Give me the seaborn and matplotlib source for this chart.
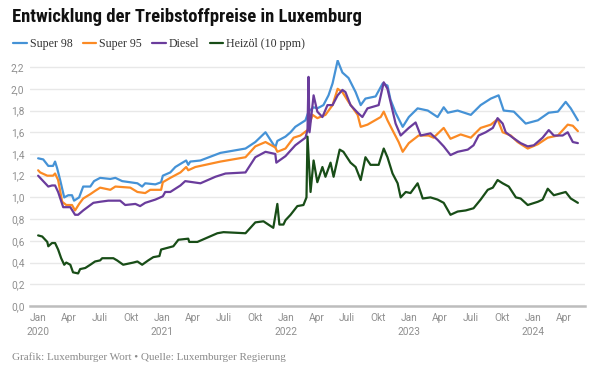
import matplotlib
matplotlib.use("Agg")
import matplotlib.pyplot as plt
from matplotlib import font_manager
import seaborn as sns
import pandas as pd

# ---------------- data ----------------
series_names = ["Super 98", "Super 95", "Diesel", "Heizöl (10 ppm)"]
series_colors = ["#4592d6", "#fb8a24", "#6a3c9c", "#184d17"]

super98_dates = ["2020-01-01","2020-01-16","2020-01-31","2020-02-14","2020-02-20","2020-02-26","2020-03-06","2020-03-18","2020-03-30","2020-04-10","2020-04-16","2020-05-01","2020-05-13","2020-06-03","2020-06-14","2020-07-02","2020-08-01","2020-08-16","2020-09-05","2020-10-20","2020-11-03","2020-11-12","2020-12-12","2020-12-29","2021-01-03","2021-01-25","2021-02-09","2021-03-02","2021-03-13","2021-03-19","2021-03-25","2021-04-24","2021-06-22","2021-09-04","2021-10-03","2021-11-02","2021-12-01","2021-12-07","2021-12-31","2022-01-15","2022-01-29","2022-02-28","2022-03-09","2022-03-24","2022-04-04","2022-04-22","2022-05-07","2022-05-19","2022-06-03","2022-06-17","2022-07-05","2022-07-26","2022-08-10","2022-08-24","2022-09-23","2022-10-14","2022-10-28","2022-11-06","2022-11-21","2022-12-12","2022-12-30","2023-01-25","2023-02-24","2023-03-25","2023-04-12","2023-04-24","2023-05-23","2023-07-01","2023-07-30","2023-08-29","2023-09-21","2023-10-06","2023-11-05","2023-12-10","2024-01-15","2024-02-16","2024-03-14","2024-04-06","2024-04-21","2024-05-12"]
super98_values = [1.36,1.35,1.29,1.29,1.33,1.27,1.16,1.00,1.02,1.02,0.97,1.00,1.10,1.10,1.15,1.18,1.17,1.18,1.15,1.13,1.10,1.13,1.12,1.14,1.20,1.23,1.28,1.32,1.34,1.30,1.33,1.34,1.41,1.45,1.51,1.60,1.46,1.52,1.56,1.60,1.65,1.71,1.79,1.83,1.82,1.85,1.94,2.05,2.26,2.15,2.10,1.97,1.85,1.91,1.93,2.05,2.03,1.90,1.78,1.65,1.74,1.82,1.80,1.74,1.83,1.78,1.80,1.76,1.85,1.91,1.94,1.80,1.79,1.68,1.71,1.78,1.79,1.88,1.82,1.71]

super95_dates = ["2020-01-01","2020-01-07","2020-01-28","2020-02-14","2020-02-20","2020-02-29","2020-03-12","2020-03-24","2020-04-10","2020-04-19","2020-05-01","2020-05-13","2020-06-03","2020-06-17","2020-07-02","2020-08-01","2020-08-16","2020-09-29","2020-10-20","2020-11-12","2020-11-27","2020-12-29","2021-01-03","2021-01-25","2021-02-24","2021-03-13","2021-03-19","2021-04-09","2021-06-22","2021-09-04","2021-10-03","2021-11-02","2021-12-01","2021-12-07","2021-12-31","2022-01-24","2022-02-13","2022-03-06","2022-03-21","2022-04-04","2022-04-28","2022-05-19","2022-06-03","2022-06-17","2022-07-05","2022-08-01","2022-08-10","2022-08-30","2022-10-08","2022-10-17","2022-10-28","2022-11-15","2022-11-30","2022-12-12","2022-12-30","2023-01-28","2023-02-26","2023-03-13","2023-04-12","2023-05-02","2023-06-01","2023-07-01","2023-07-30","2023-08-29","2023-09-18","2023-10-03","2023-10-27","2023-11-16","2023-12-16","2024-01-15","2024-02-13","2024-03-14","2024-04-12","2024-04-27","2024-05-12"]
super95_values = [1.25,1.23,1.20,1.20,1.22,1.16,0.96,0.93,0.93,0.88,0.94,0.99,1.03,1.06,1.09,1.07,1.10,1.09,1.05,1.04,1.07,1.07,1.14,1.18,1.23,1.28,1.25,1.28,1.33,1.37,1.47,1.51,1.46,1.42,1.45,1.55,1.57,1.62,1.76,1.73,1.76,1.85,2.00,1.97,1.88,1.76,1.65,1.67,1.74,1.79,1.71,1.60,1.51,1.42,1.50,1.57,1.57,1.55,1.64,1.54,1.58,1.55,1.64,1.67,1.72,1.60,1.57,1.51,1.45,1.49,1.55,1.57,1.67,1.66,1.61]

diesel_dates = ["2020-01-01","2020-01-16","2020-01-31","2020-02-11","2020-02-20","2020-02-29","2020-03-15","2020-04-05","2020-04-19","2020-04-28","2020-05-13","2020-06-12","2020-07-02","2020-07-26","2020-08-30","2020-09-14","2020-10-14","2020-10-28","2020-11-12","2020-12-12","2021-01-03","2021-01-10","2021-01-25","2021-02-24","2021-03-10","2021-04-24","2021-06-07","2021-07-07","2021-09-04","2021-10-03","2021-11-02","2021-12-01","2021-12-04","2021-12-31","2022-01-29","2022-02-28","2022-03-06","2022-03-09","2022-03-12","2022-03-24","2022-04-04","2022-04-19","2022-05-04","2022-05-19","2022-06-03","2022-06-17","2022-06-26","2022-07-11","2022-08-01","2022-08-15","2022-08-30","2022-10-02","2022-10-17","2022-10-28","2022-11-06","2022-11-21","2022-12-06","2022-12-30","2023-01-19","2023-02-03","2023-03-04","2023-03-25","2023-04-12","2023-05-02","2023-05-23","2023-06-22","2023-07-09","2023-07-24","2023-08-14","2023-09-04","2023-09-18","2023-10-03","2023-10-12","2023-11-02","2023-11-25","2023-12-16","2024-01-03","2024-01-29","2024-02-16","2024-03-02","2024-03-28","2024-04-12","2024-04-27","2024-05-12"]
diesel_values = [1.20,1.15,1.10,1.11,1.11,1.05,0.91,0.91,0.84,0.84,0.88,0.95,0.96,0.97,0.97,0.93,0.94,0.92,0.95,0.98,1.01,1.05,1.05,1.11,1.15,1.13,1.19,1.22,1.23,1.37,1.42,1.40,1.32,1.38,1.48,1.55,1.62,2.11,1.60,1.94,1.79,1.74,1.85,1.85,1.94,1.99,1.97,1.85,1.78,1.74,1.82,1.85,2.06,2.00,1.88,1.68,1.57,1.64,1.69,1.57,1.59,1.53,1.47,1.39,1.42,1.44,1.48,1.57,1.60,1.64,1.73,1.68,1.60,1.55,1.50,1.47,1.48,1.55,1.62,1.57,1.57,1.60,1.51,1.50]

heizoel_dates = ["2020-01-01","2020-01-13","2020-01-28","2020-01-31","2020-02-11","2020-02-20","2020-02-29","2020-03-09","2020-03-18","2020-03-24","2020-04-05","2020-04-13","2020-04-28","2020-05-04","2020-05-19","2020-06-03","2020-06-17","2020-07-02","2020-07-08","2020-08-10","2020-08-21","2020-09-08","2020-10-08","2020-10-20","2020-11-03","2020-11-21","2020-12-06","2020-12-24","2020-12-29","2021-01-10","2021-02-03","2021-02-18","2021-03-19","2021-03-22","2021-04-15","2021-06-13","2021-07-01","2021-09-04","2021-10-03","2021-10-27","2021-11-25","2021-12-07","2021-12-13","2021-12-25","2021-12-31","2022-01-15","2022-02-04","2022-02-22","2022-03-03","2022-03-06","2022-03-15","2022-03-24","2022-04-04","2022-04-19","2022-04-28","2022-05-13","2022-05-22","2022-06-09","2022-06-20","2022-07-11","2022-07-26","2022-08-10","2022-08-24","2022-09-08","2022-10-02","2022-10-17","2022-10-28","2022-11-12","2022-11-27","2022-12-06","2022-12-21","2023-01-04","2023-01-25","2023-02-09","2023-03-04","2023-03-25","2023-04-12","2023-05-02","2023-05-23","2023-06-16","2023-07-09","2023-07-30","2023-08-20","2023-09-04","2023-09-18","2023-10-03","2023-10-21","2023-11-11","2023-11-25","2023-12-16","2024-01-15","2024-01-29","2024-02-13","2024-03-02","2024-04-06","2024-04-21","2024-05-12"]
heizoel_values = [0.65,0.64,0.59,0.55,0.58,0.58,0.52,0.44,0.38,0.40,0.38,0.31,0.30,0.34,0.35,0.38,0.41,0.42,0.44,0.44,0.42,0.38,0.40,0.41,0.38,0.42,0.45,0.46,0.52,0.53,0.55,0.61,0.62,0.59,0.59,0.67,0.68,0.67,0.77,0.78,0.72,0.94,0.75,0.75,0.79,0.84,0.92,0.93,1.00,1.56,1.05,1.34,1.14,1.28,1.19,1.32,1.19,1.44,1.42,1.32,1.28,1.16,1.37,1.30,1.30,1.45,1.37,1.22,1.13,1.00,1.05,1.04,1.13,0.99,1.00,0.98,0.95,0.84,0.87,0.88,0.90,0.98,1.07,1.09,1.16,1.13,1.10,1.00,0.99,0.93,0.96,0.98,1.08,1.02,1.05,0.99,0.95]

y_ticks = [0.0, 0.2, 0.4, 0.6, 0.8, 1.0, 1.2, 1.4, 1.6, 1.8, 2.0, 2.2]
month_names = {1: "Jan", 4: "Apr", 7: "Juli", 10: "Okt"}
title_text = "Entwicklung der Treibstoffpreise in Luxemburg"
source_text = "Grafik: Luxemburger Wort \u2022 Quelle: Luxemburger Regierung"

# ---------------- frame ----------------
frames = []
for name, d, v in zip(series_names,
                      [super98_dates, super95_dates, diesel_dates, heizoel_dates],
                      [super98_values, super95_values, diesel_values, heizoel_values]):
    frames.append(pd.DataFrame({"date": pd.to_datetime(d), "price": v, "series": name}))
df = pd.concat(frames, ignore_index=True)

sns.set_theme(style="white")
available = {f.name for f in font_manager.fontManager.ttflist}
sans = "Roboto" if "Roboto" in available else "DejaVu Sans"
serif = "Liberation Serif" if "Liberation Serif" in available else "DejaVu Serif"
narrow = None
for cand in ["Liberation Sans Narrow", "Roboto Condensed", "Open Sans Condensed"]:
    if cand in available:
        narrow = cand
        break
plt.rcParams["font.family"] = [sans, "DejaVu Sans"]

W, H = 601, 368
fig = plt.figure(figsize=(W / 100, H / 100), dpi=100)
ax = fig.add_axes([30 / W, 1 - 306 / H, (585 - 30) / W, (306 - 59.5) / H])

sns.lineplot(data=df, x="date", y="price", hue="series", hue_order=series_names,
             palette=series_colors, linewidth=1.6, ax=ax, sort=True, estimator=None)

ax.set_ylim(0, 2.27)
ax.set_xlim(pd.Timestamp("2019-12-08"), pd.Timestamp("2024-06-02"))
ax.set_yticks(y_ticks)
ax.set_yticklabels([f"{t:.1f}".replace(".", ",") for t in y_ticks])

xt = pd.date_range("2020-01-01", "2024-04-01", freq="QS-JAN")
ax.set_xticks(xt)
ax.set_xticklabels([month_names[t.month] + (f"\n{t.year}" if t.month == 1 else "") for t in xt])
ax.set_xlabel("")
ax.set_ylabel("")

ax.grid(axis="y", color="#e8e8e8", linewidth=1.0)
ax.grid(axis="x", visible=False)
ax.set_axisbelow(True)
for s in ["top", "right", "left"]:
    ax.spines[s].set_visible(False)
ax.spines["bottom"].set_color("#bdbdbd")
ax.spines["bottom"].set_linewidth(1.8)
ax.tick_params(axis="both", length=0, colors="#8f8f8f", labelsize=7.3)
ax.tick_params(axis="x", pad=5)
ax.tick_params(axis="y", pad=4)
for lab in ax.get_xticklabels():
    lab.set_linespacing(1.5)

handles, labels = ax.get_legend_handles_labels()
if ax.get_legend() is not None:
    ax.get_legend().remove()
fig.legend(handles, labels, loc="center left", bbox_to_anchor=(13 / W, 1 - 44 / H),
           ncol=4, frameon=False, handlelength=1.15, handletextpad=0.25,
           columnspacing=0.85, borderaxespad=0, borderpad=0,
           prop={"family": serif, "size": 8.6}, labelcolor="#333333")

# title, fitted to width
title_family = [narrow, sans] if narrow else [sans]
t = fig.text(12 / W, 1 - 17 / H, title_text, ha="left", va="center",
             fontsize=15, fontweight="bold", family=title_family, color="#111111")
fig.canvas.draw()
bb = t.get_window_extent()
target = 351.0
t.set_fontsize(15 * target / bb.width)

fig.text(12 / W, 1 - 357 / H, source_text, ha="left", va="center",
         fontsize=8.0, family=serif, color="#8a8a8a")

fig.savefig("out.png", dpi=100)
